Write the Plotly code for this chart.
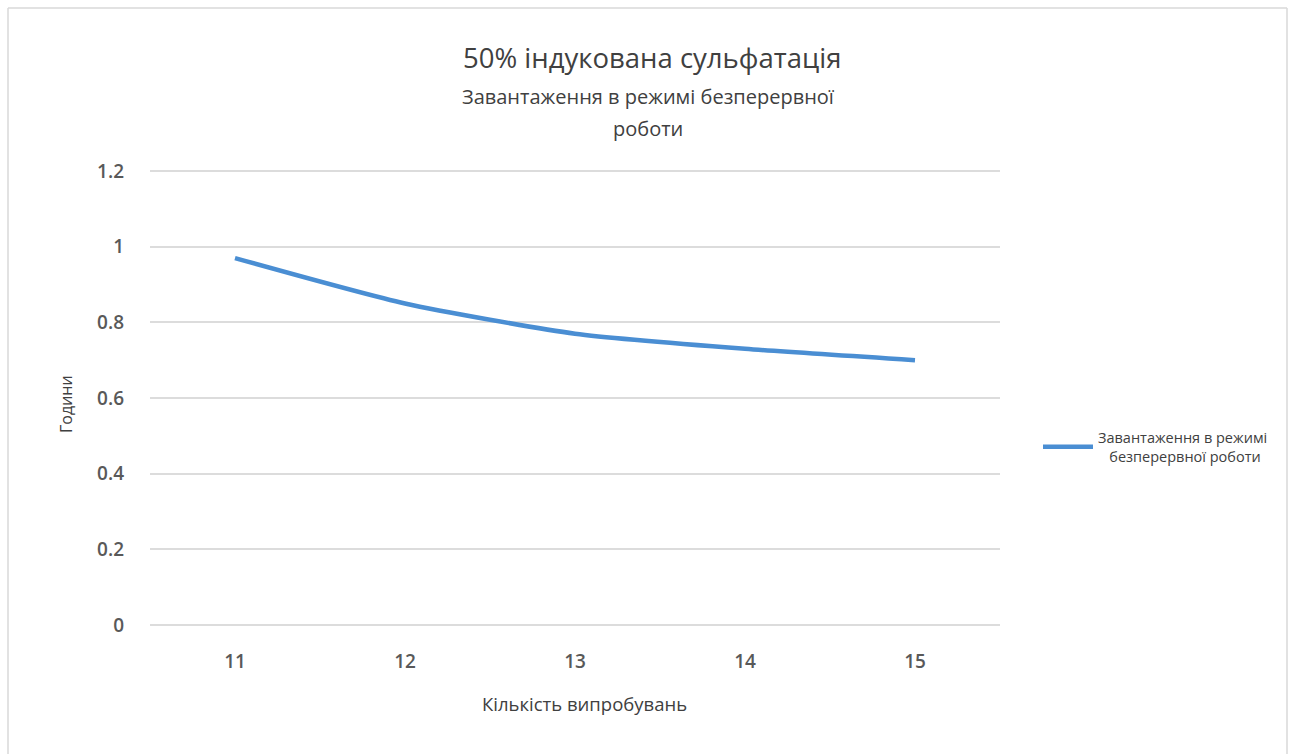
import plotly.graph_objects as go

# Test series: operating hours under continuous load, 50% induced sulfation
trials = ["11", "12", "13", "14", "15"]
hours = [0.97, 0.85, 0.77, 0.73, 0.70]
y_ticks = [0, 0.2, 0.4, 0.6, 0.8, 1, 1.2]
y_tick_labels = ["0", "0.2", "0.4", "0.6", "0.8", "1", "1.2"]

series_name = "Завантаження в режимі<br>&nbsp;&nbsp;&nbsp;безперервної роботи"
title_text = "50% індукована сульфатація"
subtitle_lines = ["Завантаження в режимі безперервної", "роботи"]
x_title = "Кількість випробувань"
y_title = "Години"

LINE_COLOR = "#4A8ED3"
GRID_COLOR = "#DCDCDC"
TEXT_COLOR = "#404040"
TICK_COLOR = "#595959"
FONT = "Open Sans, Lato, sans-serif"

W, H = 1289, 754
L, R, T, B = 150, 289, 170, 128
pw, ph = W - L - R, H - T - B


def px_x(x):
    return (x - L) / pw


def px_y(y):
    return (H - B - y) / ph


fig = go.Figure()
fig.add_trace(go.Scatter(
    x=trials, y=hours, mode="lines", name=series_name,
    line=dict(color=LINE_COLOR, width=4.5, shape="spline", smoothing=0.6),
))

fig.update_layout(
    width=W, height=H,
    margin=dict(l=L, r=R, t=T, b=B),
    paper_bgcolor="white", plot_bgcolor="white",
    font=dict(family=FONT, color=TEXT_COLOR),
    showlegend=True,
    legend=dict(
        x=px_x(1038), y=px_y(447), xanchor="left", yanchor="middle",
        font=dict(size=14.5, color=TEXT_COLOR, family=FONT),
        bgcolor="rgba(0,0,0,0)", itemwidth=50,
    ),
    xaxis=dict(
        type="category", range=[-0.5, 4.5],
        showgrid=False, zeroline=False, showline=False,
        ticks="", ticklabelstandoff=22,
        tickfont=dict(size=19, color=TICK_COLOR, family=FONT, weight=600),
    ),
    yaxis=dict(
        range=[-0.003, 1.203], tickvals=y_ticks, ticktext=y_tick_labels,
        showgrid=True, gridcolor=GRID_COLOR, gridwidth=1.6,
        zeroline=False, showline=False,
        ticks="", ticklabelstandoff=25,
        tickfont=dict(size=19, color=TICK_COLOR, family=FONT, weight=600),
    ),
)

annotations = [
    dict(text=title_text, x=px_x(652), y=px_y(57), font=dict(size=27.5, color=TEXT_COLOR)),
    dict(text=subtitle_lines[0], x=px_x(648), y=px_y(97), font=dict(size=20, color=TEXT_COLOR)),
    dict(text=subtitle_lines[1], x=px_x(648), y=px_y(128), font=dict(size=20, color=TEXT_COLOR)),
    dict(text=x_title, x=px_x(584), y=px_y(703), font=dict(size=18.5, color=TEXT_COLOR)),
    dict(text=y_title, x=px_x(66), y=px_y(404), textangle=-90, font=dict(size=16, color=TEXT_COLOR)),
]
for a in annotations:
    fig.add_annotation(xref="paper", yref="paper", showarrow=False,
                       xanchor="center", yanchor="middle", **a)

# Light frame around the chart area
frame = dict(color="#D8D8D8", width=1.5)
for x0, y0, x1, y1 in [(8, 8, 8, 754), (8, 8, 1287, 8), (1287, 8, 1287, 754)]:
    fig.add_shape(type="line", xref="paper", yref="paper",
                  x0=px_x(x0), y0=px_y(y0), x1=px_x(x1), y1=px_y(y1), line=frame)

fig.write_html("out.html")
